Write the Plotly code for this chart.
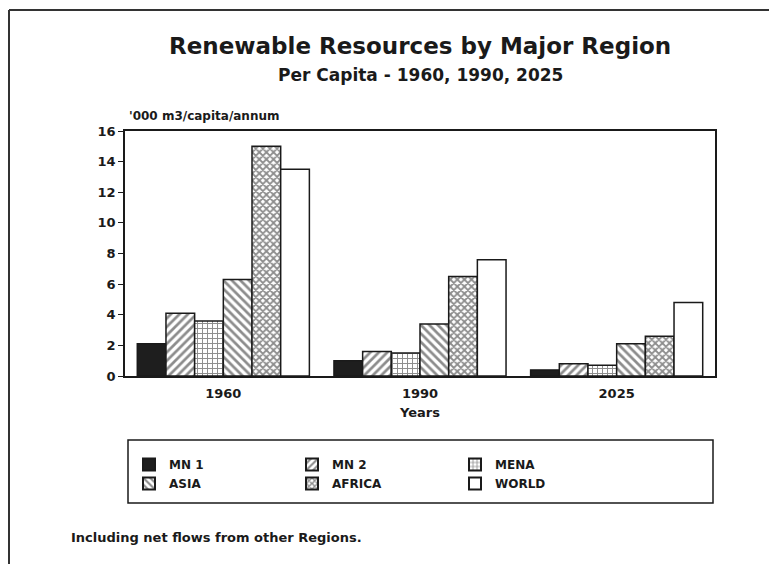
import plotly.graph_objects as go

years = ["1960", "1990", "2025"]
regions = ["MN 1", "MN 2", "MENA", "ASIA", "AFRICA", "WORLD"]
mn1 = [2.1, 1.0, 0.4]
mn2 = [4.1, 1.6, 0.8]
mena = [3.6, 1.5, 0.7]
asia = [6.3, 3.4, 2.1]
africa = [15.0, 6.5, 2.6]
world = [13.5, 7.6, 4.8]
series = [mn1, mn2, mena, asia, africa, world]
y_ticks = [0, 2, 4, 6, 8, 10, 12, 14, 16]

patterns = ["", "/", "+", "\\", "x", ""]
solid = [0.3, 0.45, 0.35, 0.45, 0.6, 0.3]
sizes = [6, 6, 5, 6, 5, 6]
colors = ["#1e1e1e", "white", "white", "white", "white", "white"]

FONT = "DejaVu Sans"
INK = "#1a1a1a"
L, R, T, B = 125, 715, 131, 376  # plot area in px
W, H = R - L, B - T


def px(x):
    return (x - L) / W


def py(y):
    return (B - y) / H


fig = go.Figure()
for name, vals, pat, col, so, sz in zip(regions, series, patterns, colors, solid, sizes):
    fig.add_trace(go.Bar(
        x=years, y=vals, name=name,
        marker=dict(color=col, line=dict(color=INK, width=1.5),
                    pattern=dict(shape=pat, fgcolor=INK, bgcolor=col, size=sz, solidity=so)),
    ))

fig.update_layout(
    width=769, height=564,
    margin=dict(l=L, r=769 - R, t=T, b=564 - B),
    paper_bgcolor="white", plot_bgcolor="white",
    barmode="group", bargap=0.125, bargroupgap=0,
    font=dict(family=FONT, color=INK, size=12, weight="bold"),
    showlegend=True,
    legend=dict(orientation="h", x=px(129), xanchor="left", y=py(450), yanchor="top",
                entrywidth=118, entrywidthmode="pixels",
                borderwidth=0, bgcolor="rgba(0,0,0,0)",
                font=dict(size=12, family=FONT, weight="bold"),
                traceorder="normal", itemsizing="constant", tracegroupgap=0),
    xaxis=dict(showline=True, linecolor=INK, linewidth=1.5, mirror=True,
               ticks="", tickfont=dict(size=13, weight="bold"), ticklabelstandoff=5,
               title=dict(text="Years", font=dict(size=13, weight="bold"), standoff=8)),
    yaxis=dict(range=[0, 16], tickvals=y_ticks, showline=True, linecolor=INK, linewidth=1.5,
               mirror=True, ticks="outside", ticklen=5, tickcolor=INK, showgrid=False,
               zeroline=False, tickfont=dict(size=13, weight="bold")),
)

fig.add_annotation(text="Renewable Resources by Major Region", xref="paper", yref="paper",
                   x=0.5, y=py(46), yanchor="middle", showarrow=False,
                   font=dict(size=23, weight="bold"))
fig.add_annotation(text="Per Capita - 1960, 1990, 2025", xref="paper", yref="paper",
                   x=0.5, y=py(75), yanchor="middle", showarrow=False,
                   font=dict(size=17, weight="bold"))
fig.add_annotation(text="'000 m3/capita/annum", xref="paper", yref="paper",
                   x=px(127), xanchor="left", y=py(116), yanchor="middle", showarrow=False,
                   font=dict(size=12, weight="bold"))
fig.add_annotation(text="Including net flows from other Regions.", xref="paper", yref="paper",
                   x=px(69), xanchor="left", y=py(537), yanchor="middle", showarrow=False,
                   font=dict(size=13, weight="bold"))
# legend box
fig.add_shape(type="rect", xref="paper", yref="paper",
              x0=px(128), x1=px(713), y0=py(503), y1=py(440),
              line=dict(color=INK, width=1.5))
# outer frame (left and top edges)
fig.add_shape(type="line", xref="paper", yref="paper",
              x0=px(9), x1=px(9), y0=py(575), y1=py(10), line=dict(color="#333", width=2))
fig.add_shape(type="line", xref="paper", yref="paper",
              x0=px(9), x1=px(780), y0=py(10), y1=py(10), line=dict(color="#333", width=2))

fig.write_html("out.html", config={"displayModeBar": False},
               post_script="document.body.style.margin='0';document.body.style.overflow='hidden';")
